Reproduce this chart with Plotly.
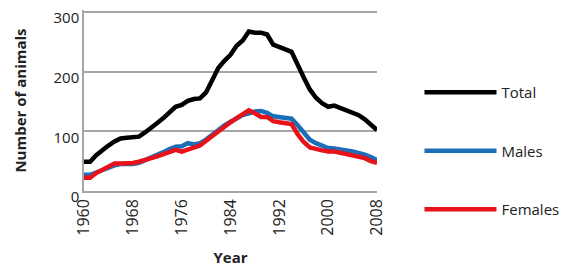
import plotly.graph_objects as go

years = list(range(1960, 2009))
total = [49, 49, 60, 69, 76, 83, 88, 89, 90, 91, 98, 107, 114, 122, 132, 141, 144, 151, 154, 155,
         165, 185, 206, 218, 228, 243, 252, 267, 265, 265, 262, 245, 240, 237, 233, 210, 190, 170,
         156, 147, 141, 143, 139, 137, 133, 127, 120, 110, 102]
males = [27, 27, 31, 35, 40, 43, 45, 45, 45, 47, 51, 55, 60, 65, 70, 74, 75, 80, 78, 80,
         86, 94, 104, 110, 116, 122, 127, 130, 133, 134, 131, 125, 124, 123, 121, 110, 98, 86,
         80, 76, 72, 71, 70, 68, 66, 64, 61, 57, 52]
females = [22, 22, 30, 36, 42, 46, 46, 46, 47, 49, 53, 55, 58, 62, 66, 69, 66, 69, 72, 76,
           84, 92, 101, 109, 115, 122, 128, 135, 130, 124, 124, 117, 115, 114, 112, 95, 82, 73,
           70, 68, 66, 66, 64, 62, 60, 58, 55, 50, 47]
x_ticks = [1960, 1968, 1976, 1984, 1992, 2000, 2008]
y_ticks = [0, 100, 200, 300]

FONT = "Open Sans"
fig = go.Figure()
series = [("Total", total, "#000000"), ("Males", males, "#1a6fb8"), ("Females", females, "#e8121a")]
for name, vals, col in series:
    fig.add_trace(go.Scatter(x=years, y=vals, mode="lines", name=name, legendgroup=name,
                             line=dict(color=col, width=4.5)))

# page body has an 8px default margin, so the figure is sized to fit the window
fig.update_layout(
    width=560, height=263,
    margin=dict(l=76, r=191, t=2, b=80, autoexpand=False),
    paper_bgcolor="white", plot_bgcolor="white",
    font=dict(family=FONT, size=16, color="#222222"),
    showlegend=True,
    legend=dict(x=1.145, xanchor="left", y=0.635, yanchor="top", tracegroupgap=36,
                itemwidth=72, font=dict(size=15, family=FONT, color="#222222"),
                bgcolor="rgba(0,0,0,0)"),
)
fig.update_xaxes(range=[1960, 2008], tickvals=x_ticks, ticktext=[str(v) for v in x_ticks],
                 tickangle=-90, showgrid=False, showline=True, linecolor="#a6a6a6", linewidth=1.5,
                 ticks="", zeroline=False, tickfont=dict(size=16), ticklabeloverflow="allow",
                 title=dict(text="<b>Year</b>", font=dict(size=15, family=FONT, color="#222222"), standoff=18))
fig.update_yaxes(range=[0, 303], tickvals=y_ticks, showgrid=True, gridcolor="#a6a6a6", gridwidth=1.5,
                 showline=True, linecolor="#a6a6a6", linewidth=1.5, ticks="", zeroline=False,
                 tickfont=dict(size=15), ticklabeloverflow="allow", ticklabelshift=6,
                 title=dict(text="<b>Number of animals</b>", font=dict(size=15, family=FONT, color="#222222"), standoff=23))

fig.write_html("out.html")
